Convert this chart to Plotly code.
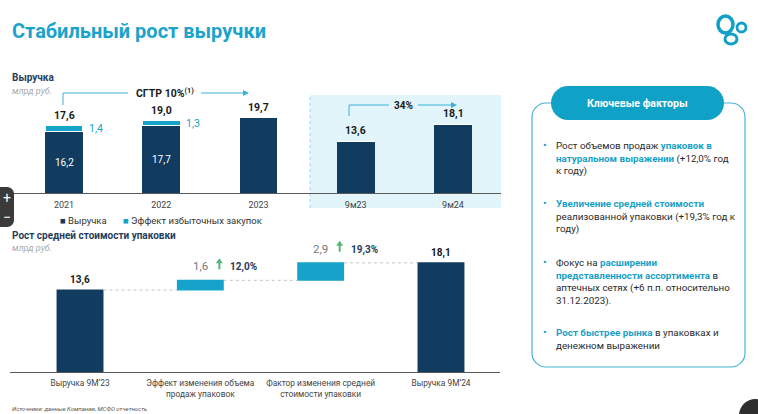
import plotly.graph_objects as go

W, H = 758, 414

# ---------------- data ----------------
top_cats = ['2021', '2022', '2023', '9м23', '9м24']
revenue_base = [16.2, 17.7, 19.7, 13.6, 18.1]
excess_purchases = [1.4, 1.3, 0, 0, 0]
revenue_totals = [17.6, 19.0, 19.7, 13.6, 18.1]
series_names = ['Выручка', 'Эффект избыточных закупок']

wf_cats = ['Выручка 9М’23', 'Эффект изменения объема<br>продаж упаковок',
           'Фактор изменения средней<br>стоимости упаковки', 'Выручка 9М’24']
wf_values = [13.6, 1.6, 2.9, 18.1]
wf_measure = ['absolute', 'relative', 'relative', 'total']
wf_growth = [None, '12,0%', '19,3%', None]

cagr_label = 'СГТР 10%<sup>(1)</sup>'
yoy_label = '34%'

HL = '#1a9fc6'
bullets = [
    f'Рост объемов продаж <b><span style="color:{HL}">упаковок в</span></b><br>'
    f'<b><span style="color:{HL}">натуральном выражении</span></b> (+12,0% год<br>к году)',
    f'<b><span style="color:{HL}">Увеличение средней стоимости</span></b><br>'
    'реализованной упаковки (+19,3% год к<br>году)',
    f'Фокус на <b><span style="color:{HL}">расширении</span></b><br>'
    f'<b><span style="color:{HL}">представленности ассортимента</span></b> в<br>'
    'аптечных сетях (+6 п.п. относительно<br>31.12.2023).',
    f'<b><span style="color:{HL}">Рост быстрее рынка</span></b> в упаковках и<br>денежном выражении',
]

NAVY = '#123c5f'
CYAN = '#15a3c9'
TEXT = '#2a2a2a'
FONT = 'Roboto'


def X(p):
    return p / W


def Y(p):
    return 1 - p / H


def fmt(v):
    return f'{v:.1f}'.replace('.', ',')


def rrect(x0, y0, x1, y1, r):
    k = 0.5523 * r
    pts = [
        f'M{X(x0 + r)},{Y(y0)}', f'L{X(x1 - r)},{Y(y0)}',
        f'C{X(x1 - r + k)},{Y(y0)} {X(x1)},{Y(y0 + r - k)} {X(x1)},{Y(y0 + r)}',
        f'L{X(x1)},{Y(y1 - r)}',
        f'C{X(x1)},{Y(y1 - r + k)} {X(x1 - r + k)},{Y(y1)} {X(x1 - r)},{Y(y1)}',
        f'L{X(x0 + r)},{Y(y1)}',
        f'C{X(x0 + r - k)},{Y(y1)} {X(x0)},{Y(y1 - r + k)} {X(x0)},{Y(y1 - r)}',
        f'L{X(x0)},{Y(y0 + r)}',
        f'C{X(x0)},{Y(y0 + r - k)} {X(x0 + r - k)},{Y(y0)} {X(x0 + r)},{Y(y0)}', 'Z']
    return ' '.join(pts)


fig = go.Figure()

# top stacked bars
fig.add_trace(go.Bar(x=top_cats, y=revenue_base, name=series_names[0], marker_color=NAVY,
                     marker_line_width=0, width=0.39, xaxis='x', yaxis='y', showlegend=False))
fig.add_trace(go.Bar(x=top_cats, y=excess_purchases, name=series_names[1],
                     marker=dict(color=CYAN, line=dict(color='white', width=1)),
                     width=0.39, xaxis='x', yaxis='y', showlegend=False))

# waterfall
fig.add_trace(go.Waterfall(
    x=wf_cats, y=wf_values, measure=wf_measure, width=0.39,
    totals=dict(marker=dict(color=NAVY)),
    increasing=dict(marker=dict(color=CYAN)),
    decreasing=dict(marker=dict(color=CYAN)),
    connector=dict(mode='between', line=dict(color='#c4c4c4', width=1, dash='dot')),
    showlegend=False, xaxis='x2', yaxis='y2', textinfo='none'))

ann = []
shapes = []
# top labels (x given as category index)
for i, (b, e, t) in enumerate(zip(revenue_base, excess_purchases, revenue_totals)):
    ann.append(dict(x=i, y=t, xref='x', yref='y', text=f'<b>{fmt(t)}</b>', showarrow=False,
                    yanchor='bottom', yshift=2, font=dict(size=10.5, color='#1a1a1a', family=FONT)))
    if e > 0:
        ann.append(dict(x=i, y=b / 2, xref='x', yref='y', text=fmt(b), showarrow=False,
                        font=dict(size=10, color='white', family=FONT)))
        ann.append(dict(x=i, y=b + e / 2, xref='x', yref='y', text=fmt(e), showarrow=False,
                        xanchor='left', xshift=23, font=dict(size=10.5, color=CYAN, family=FONT)))

# waterfall labels
levels = []
run = 0
for v, m in zip(wf_values, wf_measure):
    if m == 'absolute':
        run = v
    elif m == 'relative':
        run += v
    levels.append(run)
ARROW = ('M 18,11 L 20,11 L 20,17 L 22.5,17 L 19,22 L 15.5,17 L 18,17 Z')
for i, (v, m, lv, g) in enumerate(zip(wf_values, wf_measure, levels, wf_growth)):
    if m == 'relative':
        ann.append(dict(x=i, y=lv, xref='x2', yref='y2', text=fmt(v), showarrow=False,
                        yanchor='bottom', yshift=5, font=dict(size=11.5, color='#777777', family=FONT)))
    else:
        ann.append(dict(x=i, y=lv, xref='x2', yref='y2', text=f'<b>{fmt(lv)}</b>', showarrow=False,
                        yanchor='bottom', yshift=2, font=dict(size=10, color='#1a1a1a', family=FONT)))
    if g:
        shapes.append(dict(type='path', xref='x2', yref='y2', xsizemode='pixel', ysizemode='pixel',
                           xanchor=i, yanchor=lv, path=ARROW, fillcolor='#55b577', line_width=0))
        ann.append(dict(x=i, y=lv, xref='x2', yref='y2', text=f'<b>{g}</b>', showarrow=False,
                        xanchor='left', yanchor='bottom', xshift=28, yshift=5,
                        font=dict(size=10, color='#1f3d5c', family=FONT)))


# static texts
def txt(x, y, s, size, color, xanchor='left', yanchor='middle', family=FONT, **kw):
    ann.append(dict(x=X(x), y=Y(y), xref='paper', yref='paper', text=s, showarrow=False,
                    xanchor=xanchor, yanchor=yanchor, align='left',
                    font=dict(size=size, color=color, family=family), **kw))


txt(10, 31, '<b>Стабильный рост выручки</b>', 20, '#1ba3cc')
txt(10, 78, '<b>Выручка</b>', 10, '#1f3d5c')
txt(10, 91, '<i>млрд руб.</i>', 9, '#aaaaaa')
txt(10, 235, '<b>Рост средней стоимости упаковки</b>', 10, '#1f3d5c')
txt(10, 248, '<i>млрд руб.</i>', 9, '#aaaaaa')
txt(10, 408, '<i>Источники: данные Компании, МСФО отчетность</i>', 6, '#555555')
txt(165, 93, f'<b>{cagr_label}</b>', 10.5, '#1a1a1a', xanchor='center')
txt(403, 105, f'<b>{yoy_label}</b>', 10, '#1a1a1a', xanchor='center')
txt(637, 103, '<b>Ключевые факторы</b>', 10.5, 'white', xanchor='center')
txt(7, 198, '+', 14, 'white', xanchor='center')
txt(7, 217, '−', 14, 'white', xanchor='center')

# legend drawn as text
txt(58, 220, f'<span style="color:{NAVY}">■</span> {series_names[0]}', 9.5, '#333333')
txt(121, 220, f'<span style="color:{CYAN}">■</span> {series_names[1]}', 9.5, '#333333')

bullet_tops = [138, 196, 255, 325]
for yt, b in zip(bullet_tops, bullets):
    txt(541, yt - 1, '•', 11, CYAN, yanchor='top')
    txt(554, yt, b, 9.8, TEXT, yanchor='top')

# light blue panel behind 9m bars
shapes.append(dict(type='rect', xref='paper', yref='paper', x0=X(310), x1=X(501), y0=Y(208), y1=Y(95),
                   fillcolor='#e2f5fb', line_width=0, layer='below'))
shapes.append(dict(type='line', xref='paper', yref='paper', x0=X(310), x1=X(310), y0=Y(208), y1=Y(95),
                   line=dict(color='#9fd6e8', width=1, dash='dot'), layer='below'))
# CAGR bracket
LC = '#3bb2d6'
for (xa, ya, xb, yb) in [(63, 105, 63, 93), (63, 93, 128, 93), (201, 93, 244, 93),
                          (349, 116, 349, 105), (349, 105, 389, 105), (418, 105, 452, 105)]:
    shapes.append(dict(type='line', xref='paper', yref='paper', x0=X(xa), x1=X(xb), y0=Y(ya), y1=Y(yb),
                       line=dict(color=LC, width=1)))
for (xh, yh) in [(249, 93), (457, 105)]:
    shapes.append(dict(type='path', xref='paper', yref='paper',
                       path=f'M{X(xh - 6)},{Y(yh - 3)} L{X(xh)},{Y(yh)} L{X(xh - 6)},{Y(yh + 3)} Z',
                       fillcolor=LC, line_width=0))
# right panel
shapes.append(dict(type='path', xref='paper', yref='paper', path=rrect(532, 103, 745, 367, 14),
                   line=dict(color='#4ab3d4', width=1.2), fillcolor='rgba(0,0,0,0)'))
shapes.append(dict(type='path', xref='paper', yref='paper', path=rrect(551, 86, 724, 120, 17),
                   line_width=0, fillcolor='#0fa2c6'))
# logo
for (x0, y0, x1, y1, w) in [(718, 16, 733, 33, 3.5), (737, 23, 746, 32, 2.8), (725, 34, 737, 44, 3)]:
    shapes.append(dict(type='circle', xref='paper', yref='paper', x0=X(x0), x1=X(x1), y0=Y(y1), y1=Y(y0),
                       line=dict(color='#12a0c6', width=w)))
# viewer overlay controls
shapes.append(dict(type='path', xref='paper', yref='paper', path=rrect(-10, 187, 14, 227, 7),
                   line_width=0, fillcolor='#3a3a3a'))
shapes.append(dict(type='circle', xref='paper', yref='paper', x0=X(739), x1=X(772), y0=Y(432), y1=Y(399),
                   line_width=0, fillcolor='#2e2e2e'))

axis_common = dict(showline=True, linecolor='#5a5a5a', linewidth=1, showgrid=False, zeroline=False,
                   ticks='outside', ticklen=3, tickcolor='rgba(0,0,0,0)', tickangle=0,
                   automargin=False, fixedrange=True, type='category')

fig.update_layout(
    width=W, height=H, margin=dict(l=0, r=0, t=0, b=0, autoexpand=False),
    paper_bgcolor='white', plot_bgcolor='rgba(0,0,0,0)',
    barmode='stack', font=dict(family=FONT, color=TEXT),
    showlegend=False,
    xaxis=dict(domain=[X(0), X(501)], range=[-64 / 97.25, (501 - 64) / 97.25],
               tickfont=dict(size=9, color='#444444', family=FONT), **axis_common),
    yaxis=dict(domain=[Y(193), Y(90)], range=[0, (193 - 90) / 3.81], visible=False, automargin=False),
    xaxis2=dict(domain=[X(10), X(500)], range=[(10 - 80) / 120.3, 3 + (500 - 441) / 120.3],
                anchor='y2', tickfont=dict(size=8.4, color='#444444', family=FONT), **axis_common),
    yaxis2=dict(domain=[Y(372), Y(232)], range=[0, (372 - 232) / 6.03], visible=False,
                anchor='x2', automargin=False),
    annotations=ann, shapes=shapes,
)

fig.write_html('out.html', config={'displayModeBar': False},
               post_script="document.body.style.margin='0';document.body.style.overflow='hidden';")
